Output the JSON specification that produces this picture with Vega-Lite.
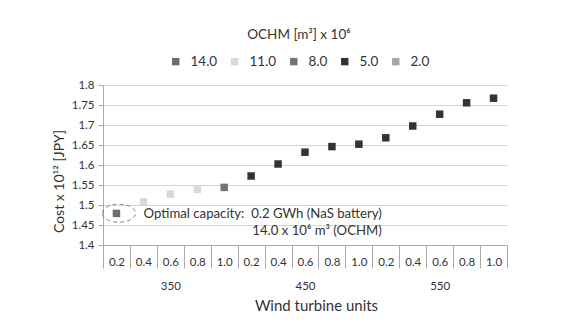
{
  "$schema": "https://vega.github.io/schema/vega-lite/v6.json",
  "autosize": {"type": "none"},
  "width": 404,
  "height": 160,
  "padding": {"left": 103, "top": 85, "right": 60, "bottom": 87},
  "background": "white",
  "config": {
    "font": "Lato",
    "view": {"stroke": null},
    "axis": {"labelFont": "Lato", "titleFont": "Lato", "labelColor": "#333333", "titleColor": "#333333", "titleFontWeight": "normal"},
    "legend": {"labelFont": "Lato", "titleFont": "Lato"}
  },
  "datasets": {
    "costs": [
      {"units": "350", "cap": "0.2", "cat": "350-0.2", "cost": 1.479, "ochm": "14.0"},
      {"units": "350", "cap": "0.4", "cat": "350-0.4", "cost": 1.508, "ochm": "11.0"},
      {"units": "350", "cap": "0.6", "cat": "350-0.6", "cost": 1.527, "ochm": "11.0"},
      {"units": "350", "cap": "0.8", "cat": "350-0.8", "cost": 1.539, "ochm": "11.0"},
      {"units": "350", "cap": "1.0", "cat": "350-1.0", "cost": 1.544, "ochm": "8.0"},
      {"units": "450", "cap": "0.2", "cat": "450-0.2", "cost": 1.5725, "ochm": "5.0"},
      {"units": "450", "cap": "0.4", "cat": "450-0.4", "cost": 1.6025, "ochm": "5.0"},
      {"units": "450", "cap": "0.6", "cat": "450-0.6", "cost": 1.632, "ochm": "5.0"},
      {"units": "450", "cap": "0.8", "cat": "450-0.8", "cost": 1.646, "ochm": "5.0"},
      {"units": "450", "cap": "1.0", "cat": "450-1.0", "cost": 1.652, "ochm": "5.0"},
      {"units": "550", "cap": "0.2", "cat": "550-0.2", "cost": 1.668, "ochm": "5.0"},
      {"units": "550", "cap": "0.4", "cat": "550-0.4", "cost": 1.6975, "ochm": "5.0"},
      {"units": "550", "cap": "0.6", "cat": "550-0.6", "cost": 1.727, "ochm": "5.0"},
      {"units": "550", "cap": "0.8", "cat": "550-0.8", "cost": 1.7555, "ochm": "5.0"},
      {"units": "550", "cap": "1.0", "cat": "550-1.0", "cost": 1.767, "ochm": "5.0"}
    ],
    "notes": [
      {"cat": "350-0.2", "cost": 1.4795, "kind": "ellipse", "label": ""},
      {"cat": "550-0.2", "cost": 1.4785, "kind": "line1", "label": "Optimal capacity:\u00a0 0.2 GWh (NaS battery)"},
      {"cat": "550-0.2", "cost": 1.4355, "kind": "line2", "label": "14.0 x 10⁶ m³ (OCHM)"}
    ],
    "groups": [
      {"cat": "350-0.2", "units": "350"},
      {"cat": "450-0.2", "units": "450"},
      {"cat": "550-0.2", "units": "550"}
    ]
  },
  "encoding": {
    "x": {
      "field": "cat", "type": "ordinal",
      "scale": {"type": "band", "paddingInner": 0, "paddingOuter": 0},
      "axis": {
        "orient": "bottom", "title": "Wind turbine units", "titleFontSize": 15, "titlePadding": 6, "titleX": 213,
        "tickBand": "extent", "tickSize": 23,
        "tickColor": "#aaaaaa", "domainColor": "#aaaaaa", "labelAngle": 0,
        "labelPadding": -11.5, "labelFontSize": 11.5, "labelLineHeight": 24,
        "labelExpr": "split(datum.value, '-')[1] === '0.6' ? [split(datum.value, '-')[1], split(datum.value, '-')[0]] : split(datum.value, '-')[1]",
        "grid": false
      }
    },
    "y": {
      "field": "cost", "type": "quantitative",
      "scale": {"domain": [1.4, 1.8], "zero": false, "nice": false},
      "axis": {
        "title": "Cost x 10¹²  [JPY]", "titleFontSize": 14, "titlePadding": 5, "titleY": 96,
        "values": [1.4, 1.45, 1.5, 1.55, 1.6, 1.65, 1.7, 1.75, 1.8], "format": "~g", "labelOverlap": false,
        "labelFontSize": 11.5, "labelPadding": 4, "tickSize": 5, "tickColor": "#aaaaaa",
        "domainColor": "#aaaaaa", "grid": true, "gridColor": "#d4d4d4"
      }
    }
  },
  "layer": [
    {
      "data": {"name": "costs"},
      "mark": {"type": "point", "shape": "square", "filled": true, "size": 56, "opacity": 1},
      "encoding": {
        "color": {
          "field": "ochm", "type": "nominal",
          "scale": {"domain": ["14.0", "11.0", "8.0", "5.0", "2.0"], "range": ["#6d6d6d", "#d9d9d9", "#737373", "#333333", "#a6a6a6"]},
          "legend": {
            "title": "OCHM [m³] x 10⁶", "orient": "none", "direction": "horizontal",
            "legendX": 66, "legendY": -57, "titleAnchor": "middle", "titleFontSize": 13.5,
            "titleFontWeight": "normal", "titleColor": "#333333", "titlePadding": 13,
            "labelFontSize": 13.5, "labelColor": "#333333", "symbolType": "square", "symbolSize": 55,
            "symbolStrokeWidth": 0, "labelOffset": 8, "columnPadding": 10
          }
        }
      }
    },
    {
      "data": {"name": "groups"},
      "mark": {"type": "rule", "color": "#aaaaaa", "strokeWidth": 1, "clip": false},
      "encoding": {
        "x": {"field": "cat", "type": "ordinal", "bandPosition": 0},
        "y": {"datum": 1.4},
        "y2": {"datum": 1.2825}
      }
    },
    {
      "data": {"name": "groups"},
      "transform": [{"filter": "datum.units === '550'"}],
      "mark": {"type": "rule", "color": "#aaaaaa", "strokeWidth": 1, "clip": false},
      "encoding": {
        "x": {"datum": "550-1.0", "type": "ordinal", "bandPosition": 1},
        "y": {"datum": 1.4},
        "y2": {"datum": 1.2825}
      }
    },
    {
      "data": {"name": "notes"},
      "transform": [{"filter": "datum.kind === 'ellipse'"}],
      "mark": {"type": "point", "shape": "M-1,0A1,0.55,0,1,1,1,0A1,0.55,0,1,1,-1,0Z", "size": 1089, "filled": false, "stroke": "#555555", "strokeWidth": 1, "strokeDash": [4, 3], "xOffset": 2.5}
    },
    {
      "data": {"name": "notes"},
      "transform": [{"filter": "datum.kind !== 'ellipse'"}],
      "mark": {"type": "text", "align": "right", "baseline": "middle", "dx": -4, "fontSize": 13.2, "color": "#333333", "font": "Lato"},
      "encoding": {
        "text": {"field": "label"}
      }
    }
  ]
}
